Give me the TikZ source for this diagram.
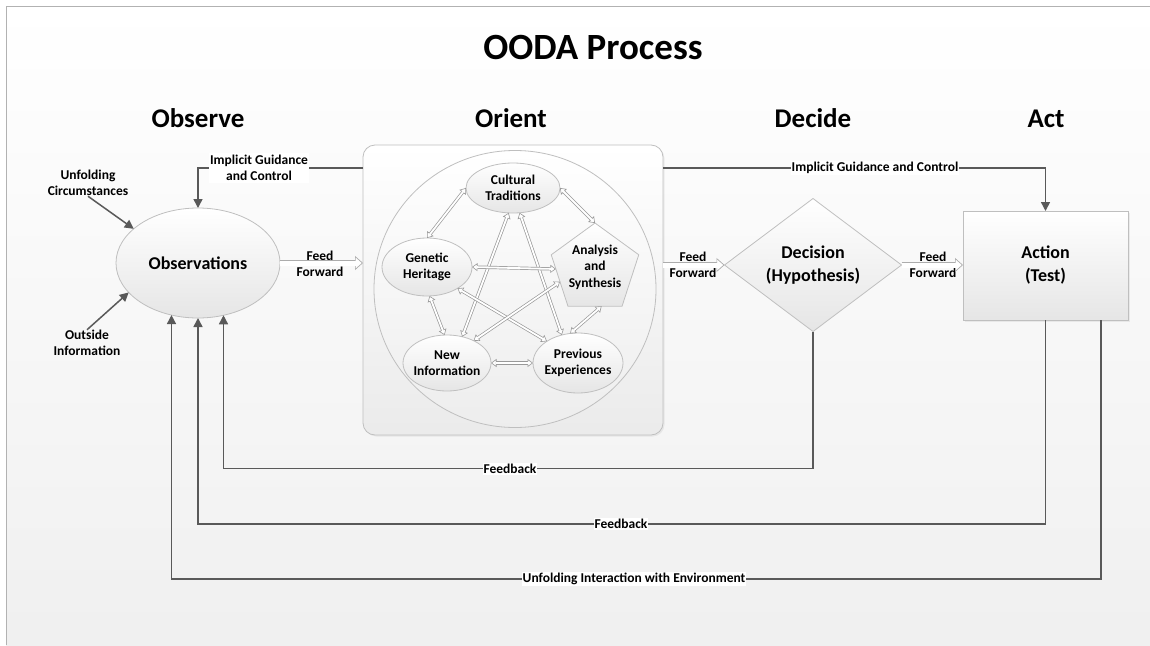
\documentclass[tikz,border=0pt]{standalone}
\usepackage{fontspec}
\setmainfont{Carlito}
\usetikzlibrary{shapes.geometric,arrows.meta,calc,shadows}
\newcommand\fsTitle{\fontsize{37}{44}\selectfont\bfseries}
\newcommand\fsHead{\fontsize{27}{32}\selectfont\bfseries}
\newcommand\fsMain{\fontsize{18}{23}\selectfont\bfseries}
\newcommand\fsLbl{\fontsize{13.5}{16.5}\selectfont\bfseries}
\tikzset{
 shp/.style={draw=gray!50, line width=0.8pt, top color=white, bottom color=gray!20, inner sep=0pt, outer sep=0pt},
 txt/.style={font=\fsLbl, align=center, inner sep=0pt},
 bigtxt/.style={font=\fsMain, align=center, inner sep=0pt},
 head/.style={font=\fsHead, inner sep=0pt, anchor=base},
 conn/.style={draw=black!65, line width=1.5pt, -{Triangle[length=9pt,width=9pt]}},
 ffarrow/.style={line width=6.5pt, draw=gray!65, -{Triangle[fill=white,line width=0.7pt,length=8pt,width=14pt]}, postaction={draw=white, line width=5pt, shorten >=7pt, arrows=-}},
 hol/.style={line width=3.2pt, draw=gray!80, {Triangle[fill=white,line width=0.6pt,length=5.5pt,width=8pt]}-{Triangle[fill=white,line width=0.6pt,length=5.5pt,width=8pt]}, postaction={draw=white, line width=1.8pt, shorten >=4.5pt, shorten <=4.5pt, arrows=-}},
 tag/.style={font=\fsLbl, fill=white, inner sep=1.5pt, align=center},
 plain/.style={font=\fsLbl, align=center, inner sep=0pt},
}
\begin{document}
\begin{tikzpicture}[x=1pt,y=-1pt]
\useasboundingbox (0,0) rectangle (1150,645);
% background
\shade[top color=white, bottom color=gray!12] (6,6) rectangle (1150,645);
\draw[gray!60, line width=1pt] (6,645) -- (6,6) -- (1150,6);

% headings
\node[font=\fsTitle, inner sep=0pt, anchor=base] (title) at (593,59) {OODA Process};
\node[head] (hobs) at (198,127) {Observe};
\node[head] (hori) at (511,127) {Orient};
\node[head] (hdec) at (813,127) {Decide};
\node[head] (hact) at (1046,127) {Act};

% main shapes
\node[ellipse, shp, minimum width=164pt, minimum height=110pt] (obs) at (198,263) {};
\node[bigtxt] (obst) at (obs) {Observations};

\node[rectangle, rounded corners=12pt, shp, bottom color=gray!16, minimum width=300pt, minimum height=290pt,
      drop shadow={opacity=0.12, shadow xshift=1.5pt, shadow yshift=-1.5pt}] (orient) at (513,290) {};
\node[ellipse, shp, bottom color=gray!14, minimum width=282pt, minimum height=277pt] (ring) at (515,289) {};

\node[diamond, shp, minimum width=177pt, minimum height=133pt] (dec) at (813,265) {};
\node[bigtxt] (dect) at (dec) {Decision\\(Hypothesis)};

\node[rectangle, shp, minimum width=165pt, minimum height=109pt,
      drop shadow={opacity=0.12, shadow xshift=1.5pt, shadow yshift=-1.5pt}] (act) at (1045.5,265.5) {};
\node[bigtxt] (actt) at (act) {Action\\(Test)};

% orient internals
\node[ellipse, shp, minimum width=94pt, minimum height=50pt] (cult) at (513,188) {};
\node[txt] (cultt) at (cult) {Cultural\\Traditions};
\node[ellipse, shp, minimum width=90pt, minimum height=58pt] (gen) at (427,267) {};
\node[txt] (gent) at (gen) {Genetic\\Heritage};
\node[regular polygon, regular polygon sides=5, shp, minimum size=92pt] (anal) at (595,269) {};
\node[txt] (analt) at (595,267) {Analysis\\and\\Synthesis};
\node[ellipse, shp, minimum width=88pt, minimum height=56pt] (newi) at (447,363) {};
\node[txt] (newit) at (newi) {New\\Information};
\node[ellipse, shp, minimum width=90pt, minimum height=60pt] (prev) at (578,363) {};
\node[txt] (prevt) at (prev) {Previous\\Experiences};

% hollow double arrows
\draw[hol] (cult.west) -- (gen.north);
\draw[hol] (cult.east) -- (anal.corner 1);
\draw[hol] (cult.-100) -- (newi.60);
\draw[hol] (cult.-75) -- (prev.120);
\draw[hol] (gen.east) -- (anal.180);
\draw[hol] (gen.-85) -- (newi.95);
\draw[hol] (gen.-35) -- (prev.145);
\draw[hol] (anal.200) -- (newi.40);
\draw[hol] (anal.-80) -- (prev.105);
\draw[hol] (newi.east) -- (prev.west);

% outside inputs
\node[plain] (uc) at (88,183) {Unfolding\\Circumstances};
\node[plain] (oi) at (87,343) {Outside\\Information};
\draw[conn] (uc.south) -- (obs.152);
\draw[conn] (oi.north) -- (obs.203);

% implicit guidance
\coordinate (igy) at (0,168);
\draw[conn] (orient.west |- igy) -- (obs.north |- igy) -- (obs.north);
\node[tag] (igl) at (259,168) {Implicit Guidance\\and Control};
\draw[conn] (orient.east |- igy) -- (act.north |- igy) -- (act.north);
\node[tag, inner sep=1pt] (igr) at (875,168) {Implicit Guidance and Control};

% feed forward
\node[plain] (ff1) at (320,264) {Feed\\Forward};
\node[plain] (ff2) at (693,265) {Feed\\Forward};
\node[plain] (ff3) at (933,265) {Feed\\Forward};
\draw[ffarrow] (obs.east) -- (obs.east -| orient.west);
\draw[ffarrow] (orient.east |- dec.west) -- (dec.west);
\draw[ffarrow] (dec.east) -- (dec.east -| act.west);

% feedback loops
\draw[conn] (dec.south) -- ++(0,137) -| (obs.-64.5);
\node[tag, inner sep=1pt] (fb1) at (510,469) {Feedback};
\draw[conn] (act.south) -- ++(0,204) -| (obs.south);
\node[tag, inner sep=1pt] (fb2) at (621,524) {Feedback};
\draw[conn] ($(act.south east)+(-27,0)$) -- ++(0,259) -| (obs.-117.5);
\node[tag, inner sep=1pt] (uie) at (634,579) {Unfolding Interaction with Environment};
\end{tikzpicture}
\end{document}
